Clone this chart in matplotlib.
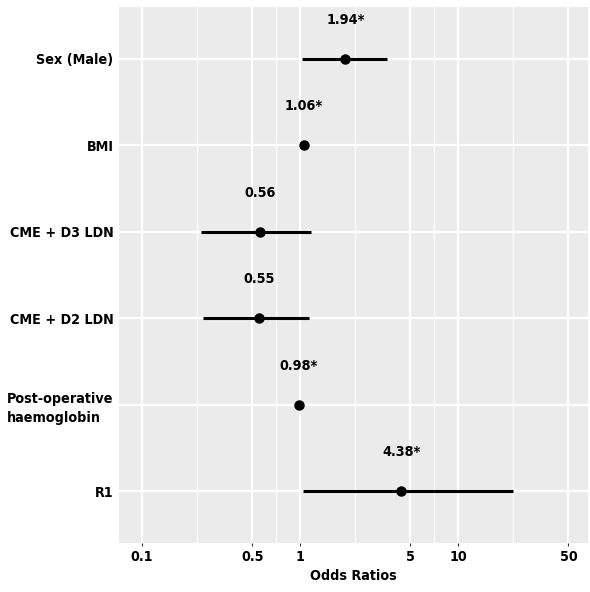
import numpy as np
import matplotlib
matplotlib.use("Agg")
from matplotlib import pyplot as plt
from matplotlib import font_manager

# data
variables = ["Sex (Male)", "BMI", "CME + D3 LDN", "CME + D2 LDN",
             "Post-operative\nhaemoglobin", "R1"]
odds = [1.94, 1.06, 0.56, 0.55, 0.98, 4.38]
ci_low = [1.03, 1.02, 0.236, 0.243, 0.96, 1.05]
ci_high = [3.55, 1.10, 1.17, 1.14, 1.00, 22.3]
labels = ["1.94*", "1.06*", "0.56", "0.55", "0.98*", "4.38*"]
x_ticks = [0.1, 0.5, 1, 5, 10, 50]
x_ticklabels = ["0.1", "0.5", "1", "5", "10", "50"]

# condensed bold font if one is installed
cond = [f for f in font_manager.fontManager.ttflist
        if "ondensed" in f.fname or "Narrow" in f.name]
fam = cond[0].name if cond else "DejaVu Sans"
plt.rcParams["font.family"] = [fam, "DejaVu Sans"]
plt.rcParams["font.weight"] = "bold"
plt.rcParams["font.stretch"] = "condensed"
fs = 10.3

fig = plt.figure(figsize=(5.9, 5.92), dpi=100)
ax = fig.add_axes([119 / 590, 1 - 543 / 592, (588 - 119) / 590, (543 - 7) / 592])
ax.set_facecolor("#ebebeb")
for s in ax.spines.values():
    s.set_visible(False)

ax.set_xscale("log")
ax.set_xlim(0.0715, 66.5)
n = len(variables)
ypos = np.arange(n)[::-1] + 1
ax.set_ylim(0.4, n + 0.6)

# grid lines, ggplot style (minor breaks halfway in log space)
minor = [10 ** ((np.log10(a) + np.log10(b)) / 2) for a, b in zip(x_ticks[:-1], x_ticks[1:])]
for m in minor:
    ax.axvline(m, color="white", lw=0.8, zorder=0)
for t in x_ticks:
    ax.axvline(t, color="white", lw=1.6, zorder=0)
for y in ypos:
    ax.axhline(y, color="white", lw=1.6, zorder=0)

ax.hlines(ypos, ci_low, ci_high, color="black", lw=2.2, zorder=2)
ax.plot(odds, ypos, "o", color="black", ms=6.5, zorder=3)
for o, y, lab in zip(odds, ypos, labels):
    ax.text(o, y + 0.45, lab, ha="center", va="center", fontsize=fs,
            fontweight="bold")

ax.set_xticks(x_ticks)
ax.set_xticklabels(x_ticklabels)
ax.xaxis.set_minor_locator(matplotlib.ticker.NullLocator())
ax.set_yticks(ypos)
ax.set_yticklabels(variables, ha="right", multialignment="left", linespacing=1.45)
ax.tick_params(axis="y", length=0, pad=4, labelsize=fs)
ax.tick_params(axis="x", length=2, color="#333333", pad=3, labelsize=fs)
for lab in ax.get_yticklabels() + ax.get_xticklabels():
    lab.set_fontweight("bold")
ax.set_xlabel("Odds Ratios", fontsize=fs, fontweight="bold", labelpad=4)

fig.savefig("out.png", dpi=100)
